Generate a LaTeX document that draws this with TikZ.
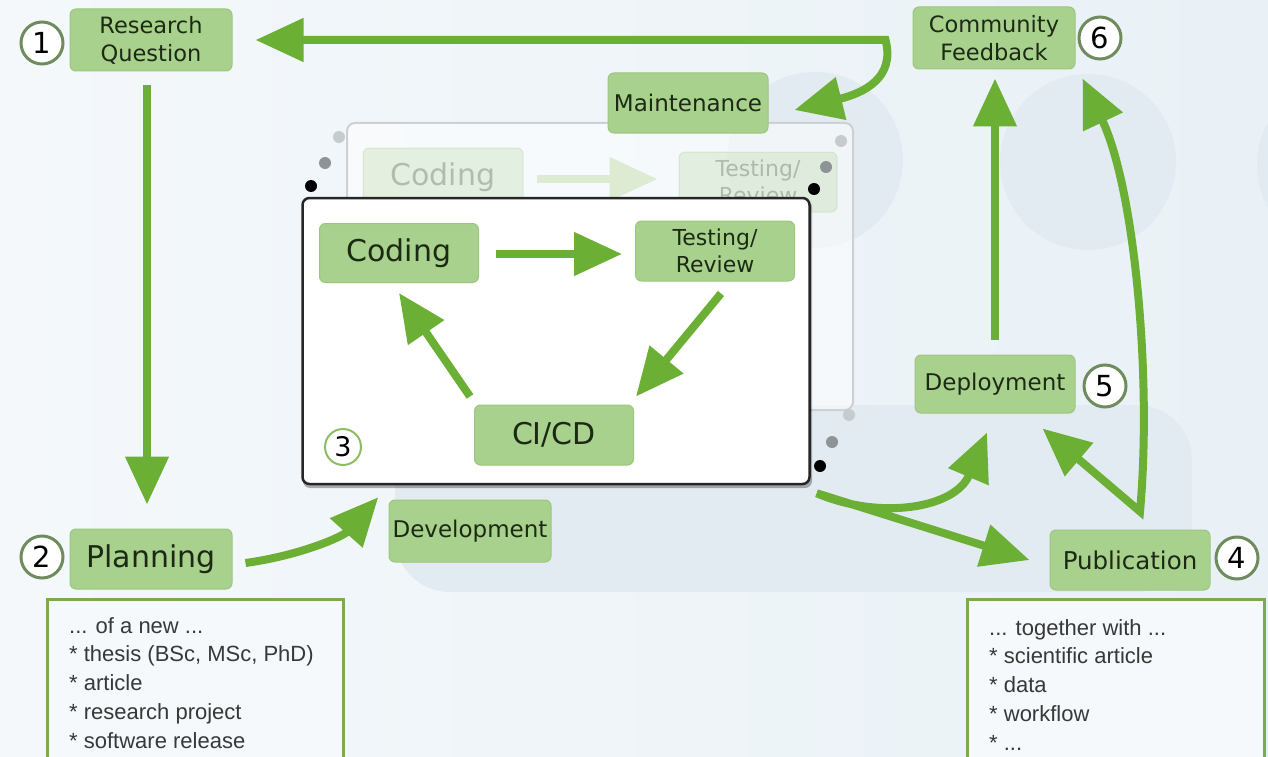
\documentclass[tikz,border=0pt]{standalone}
\usepackage{fontspec}
\setmainfont{DejaVu Sans}
\newfontfamily\listfont{Liberation Sans}
\usetikzlibrary{arrows.meta,calc}
\definecolor{bgL}{HTML}{F4F8FB}
\definecolor{bgR}{HTML}{E9F1F6}
\definecolor{blob}{HTML}{E3EBF2}
\definecolor{boxfill}{HTML}{A9D18E}
\definecolor{boxline}{HTML}{9CC67F}
\definecolor{boxtext}{HTML}{1C2A14}
\definecolor{arrowgreen}{HTML}{6BB034}
\definecolor{fadegreen}{HTML}{DDEBD2}
\definecolor{numline}{HTML}{6F8C5E}
\definecolor{numlinegreen}{HTML}{8DBE63}
\definecolor{listline}{HTML}{7DAA4E}
\definecolor{listtext}{HTML}{383838}
\definecolor{listbg}{HTML}{F5F9FB}
\definecolor{backline}{HTML}{CBD1D5}
\definecolor{dotlight}{HTML}{C6CBCE}
\definecolor{dotmid}{HTML}{8E9396}
\tikzset{
  gbox/.style={rounded corners=6pt, fill=boxfill, draw=boxline, line width=1pt,
    text=boxtext, align=center, inner sep=0pt},
  arr/.style={draw=arrowgreen, line width=8pt, -{Triangle[length=48pt,width=42pt]}},
  arrboth/.style={draw=arrowgreen, line width=8pt,
    {Triangle[length=48pt,width=42pt]}-{Triangle[length=48pt,width=42pt]}},
  numc/.style={circle, draw=numline, line width=3pt, fill=white, minimum size=42pt,
    inner sep=0pt, text=black, font=\fontsize{29}{29}\selectfont},
  dotc/.style={circle, inner sep=0pt, minimum size=12pt},
  listtxt/.style={anchor=north west, align=left, inner sep=0pt, text=listtext,
    font=\listfont\fontsize{22}{28.8}\selectfont},
  listbox/.style={draw=listline, line width=3pt, fill=listbg},
}
\begin{document}
\begin{tikzpicture}[x=1pt,y=-1pt]
\useasboundingbox (0,0) rectangle (1268,757);
% background
\shade[left color=bgL, right color=bgR] (0,0) rectangle (1268,757);
\fill[blob] (815,160) circle[radius=88];
\fill[blob] (1088,162) circle[radius=88];
\fill[blob] (1345,165) circle[radius=88];
\fill[blob, rounded corners=55pt] (395,405) rectangle (1192,592);

% back (faded) layer
\draw[backline, line width=2pt, fill=white, fill opacity=0.5, rounded corners=8pt] (347,123) rectangle (853,410);
\node[gbox, opacity=0.25, minimum width=160pt, minimum height=58pt, font=\fontsize{30}{36}\selectfont] (fcoding) at (443,177) {Coding};
\node[gbox, opacity=0.25, minimum width=158pt, minimum height=60pt, font=\fontsize{22}{27}\selectfont] (ftest) at (758,182) {Testing/\\Review};
\draw[arr, draw=fadegreen, fill=fadegreen] ($(fcoding.east)+(13,2)$) -- ($(ftest.west)+(-21,-3)$);

% stack dots
\node[dotc, fill=dotlight] (d1) at (339,137) {};
\node[dotc, fill=dotmid] (d2) at (325,163) {};
\node[dotc, fill=black] (d3) at (311,186) {};
\node[dotc, fill=dotlight] (d4) at (841,141) {};
\node[dotc, fill=dotmid] (d5) at (826,167) {};
\node[dotc, fill=black] (d6) at (814,189) {};
\node[dotc, fill=dotlight] (d7) at (849,415) {};
\node[dotc, fill=dotmid] (d8) at (832,442) {};
\node[dotc, fill=black] (d9) at (820,466) {};

% front layer
\fill[black, opacity=0.3, rounded corners=7pt] (303,200) rectangle (812,488);
\node[draw=black!85, line width=2.5pt, fill=white, rounded corners=7pt,
  minimum width=507pt, minimum height=286pt, inner sep=0pt] (front) at (556,341) {};

\node[gbox, minimum width=159pt, minimum height=59pt, font=\fontsize{30}{36}\selectfont] (coding) at (399,253) {Coding};
\node[gbox, minimum width=159pt, minimum height=60pt, font=\fontsize{22}{27}\selectfont] (test) at (715,251) {Testing/\\Review};
\node[gbox, minimum width=159pt, minimum height=60pt, font=\fontsize{30}{36}\selectfont] (cicd) at (554,435) {CI/CD};
\node[numc, draw=numlinegreen, line width=2pt, minimum size=36pt, font=\fontsize{27}{27}\selectfont] (n3) at (343,447) {3};

\draw[arr] ($(coding.east)+(17,1)$) -- ($(test.west)+(-13,3)$);
\draw[arr] ($(test.south)+(6,12)$) -- ($(cicd.north)+(82,-8)$);
\draw[arr] ($(cicd.north)+(-84,-8)$) -- ($(coding.south)+(0,10)$);

% outer nodes
\node[gbox, minimum width=162pt, minimum height=62pt, font=\fontsize{22.5}{28}\selectfont] (rq) at (151,40) {Research\\Question};
\node[gbox, minimum width=162pt, minimum height=60pt, font=\fontsize{30}{36}\selectfont] (plan) at (151,559) {Planning};
\node[gbox, minimum width=160pt, minimum height=60pt, font=\fontsize{23}{28}\selectfont] (maint) at (688,103) {Maintenance};
\node[gbox, minimum width=162pt, minimum height=62pt, font=\fontsize{22.5}{28}\selectfont] (comm) at (994,38) {Community\\Feedback};
\node[gbox, minimum width=160pt, minimum height=58pt, font=\fontsize{23}{28}\selectfont] (deploy) at (995,384) {Deployment};
\node[gbox, minimum width=160pt, minimum height=60pt, font=\fontsize{24.5}{28}\selectfont] (publ) at (1130,560) {Publication};
\node[gbox, minimum width=162pt, minimum height=62pt, font=\fontsize{23}{28}\selectfont] (dev) at (470,531) {Development};

\node[numc] (n1) at (42,43) {1};
\node[numc] (n2) at (42,557) {2};
\node[numc] (n4) at (1237,558) {4};
\node[numc] (n5) at (1105,386) {5};
\node[numc] (n6) at (1100,38) {6};

% outer connectors
\coordinate (topcorner) at ($(rq.east)+(653,0)$);
\draw[arrboth] ($(rq.east)+(23,0)$) -- (topcorner)
  .. controls ($(topcorner)+(10,38)$) and ($(maint.east)+(95,-10)$) .. ($(maint.east)+(26,7)$);
\draw[arr] ($(rq.south)+(-4,14)$) -- ($(plan.north)+(-4,-24)$);
\draw[arr] ($(plan.east)+(13,4)$) .. controls ($(plan.east)+(70,-4)$) and ($(dev.west)+(-45,5)$) .. ($(front.south west)+(77,12)$);
\coordinate (frontout) at ($(front.south east)+(6,8)$);
\draw[arrboth] ($(deploy.south)+(-8,19)$) .. controls ($(deploy.south)+(-40,95)$) and ($(frontout)+(63,27)$) .. (frontout) -- ($(publ.west)+(-20,0)$);
\coordinate (pubfork) at ($(publ.north)+(10,-18)$);
\draw[arrboth] ($(deploy.south east)+(-33,15)$) -- (pubfork)
  .. controls ($(pubfork)+(12,-132)$) and ($(pubfork)+(-5,-322)$) .. ($(comm.south east)+(7,9)$);
\draw[arr] ($(deploy.north)+(0,-15)$) -- ($(comm.south)+(1,9)$);

% lists
\draw[listbox] (47,599) rectangle (343,780);
\node[listtxt] (list1) at (69,617) {... of a new ...\\* thesis (BSc, MSc, PhD)\\* article\\* research project\\* software release};
\draw[listbox] (967,599) rectangle (1264,780);
\node[listtxt] (list2) at (989,619) {... together with ...\\* scientific article\\* data\\* workflow\\* ...};
\end{tikzpicture}
\end{document}
